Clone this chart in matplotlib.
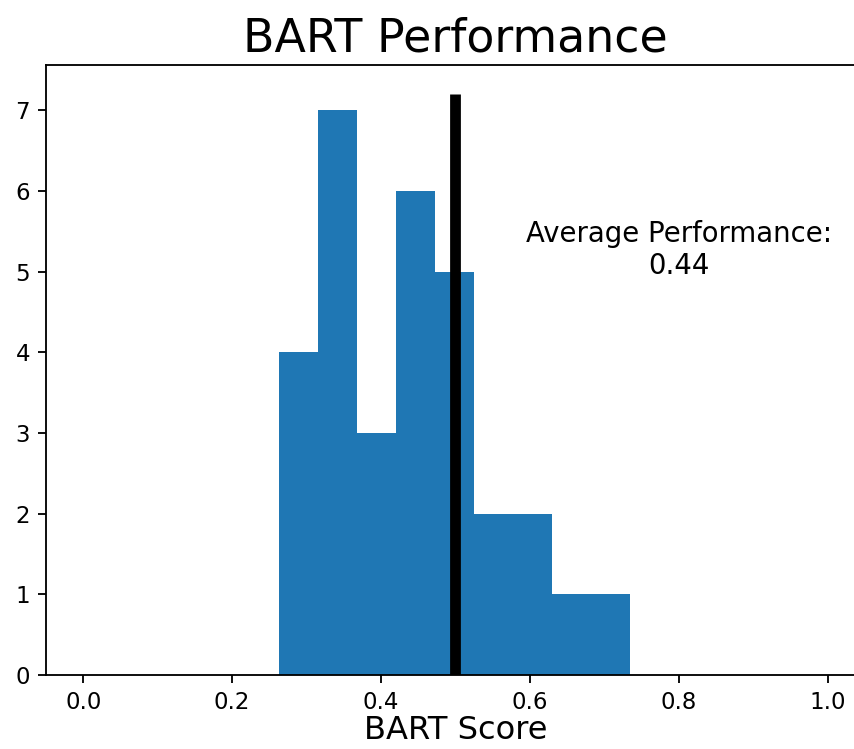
import numpy as np
import matplotlib
matplotlib.use("Agg")
import matplotlib.pyplot as plt

# Data
bin_min, bin_max = 0.2624, 0.7342
counts = [4, 7, 3, 6, 5, 2, 2, 1, 1]
avg_line_x = 0.5
avg_line_top = 7.2
avg_text = "Average Performance:\n0.44"

edges = np.linspace(bin_min, bin_max, len(counts) + 1)
centers = (edges[:-1] + edges[1:]) / 2

DPI = 165
fig = plt.figure(figsize=(854 / DPI, 749 / DPI), dpi=DPI)
ax = fig.add_axes([46 / 854, 74 / 749, 819 / 854, 610 / 749])
ax.hist(centers, bins=edges, weights=counts, color="#1f77b4")
ax.vlines(avg_line_x, 0, avg_line_top, colors="black", linewidth=4.7)
ax.text(0.8, 4.97, avg_text, ha="center", fontsize=12)
ax.set_xlim(-0.05, 1.05)
ax.set_ylim(0, avg_line_top * 1.05)
ax.set_title("BART Performance", fontsize=20)
ax.set_xlabel("BART Score", fontsize=14, labelpad=0.5)
ax.spines["right"].set_visible(False)
fig.savefig("out.png", dpi=DPI)
